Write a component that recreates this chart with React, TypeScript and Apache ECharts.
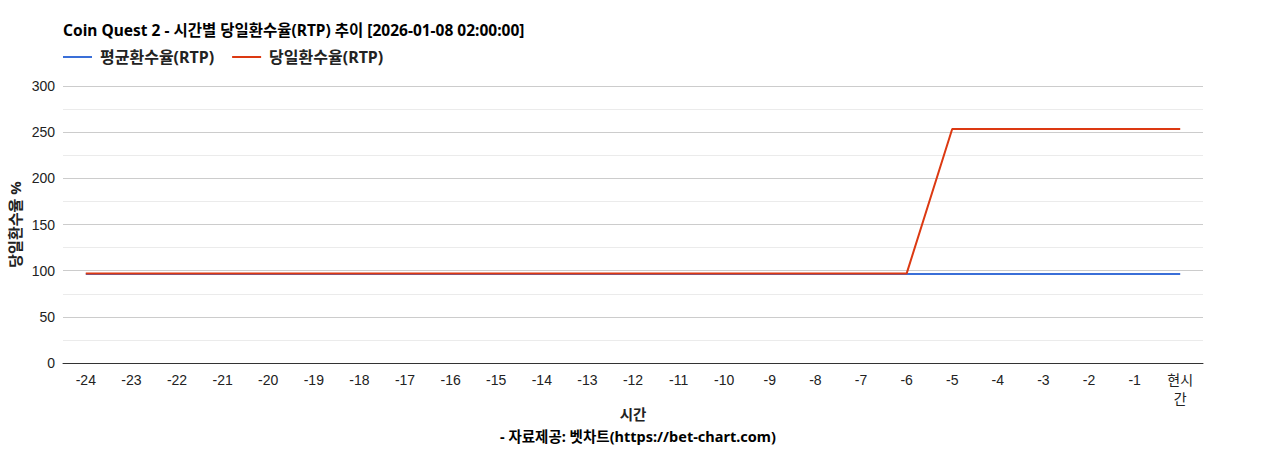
import { useEffect, useRef } from "react";
import * as echarts from "echarts";

const hours = [
  "-24", "-23", "-22", "-21", "-20", "-19", "-18", "-17", "-16", "-15", "-14", "-13",
  "-12", "-11", "-10", "-9", "-8", "-7", "-6", "-5", "-4", "-3", "-2", "-1", "현시간"
];

const avgRtp = [
  96.5, 96.5, 96.5, 96.5, 96.5, 96.5, 96.5, 96.5, 96.5, 96.5, 96.5, 96.5,
  96.5, 96.5, 96.5, 96.5, 96.5, 96.5, 96.5, 96.5, 96.5, 96.5, 96.5, 96.5, 96.5
];

const dailyRtp = [
  96.8, 96.8, 96.8, 96.8, 96.8, 96.8, 96.8, 96.8, 96.8, 96.8, 96.8, 96.8,
  96.8, 96.8, 96.8, 96.8, 96.8, 96.8, 96.8, 253.5, 253.5, 253.5, 253.5, 253.5, 253.5
];

const titleText = "Coin Quest 2 - 시간별 당일환수율(RTP) 추이 [2026-01-08 02:00:00]";
const footerText = "- 자료제공: 벳차트(https://bet-chart.com)";

const font = "Arial, 'Liberation Sans', 'Noto Sans CJK KR', sans-serif";
const boldFont = "'Noto Sans', 'Noto Sans CJK KR', sans-serif";

export default function App() {
  const ref = useRef<HTMLDivElement | null>(null);

  useEffect(() => {
    if (!ref.current) {
      return;
    }
    const instance = echarts.init(ref.current, null, { renderer: "svg" });

    instance.setOption({
      animation: false,
      textStyle: { fontFamily: font },
      title: [
        {
          text: titleText,
          left: 58,
          top: 17,
          textStyle: { fontSize: 15.5, fontWeight: "bold", color: "#000000", fontFamily: boldFont }
        },
        {
          text: footerText,
          left: 495,
          top: 424,
          textStyle: { fontSize: 14.5, fontWeight: "bold", color: "#000000", fontFamily: boldFont }
        }
      ],
      legend: {
        left: 58,
        top: 44,
        icon: "rect",
        itemWidth: 29,
        itemHeight: 2,
        itemGap: 18,
        textStyle: { fontSize: 16, fontWeight: "bold", color: "#222222", fontFamily: boldFont, padding: [0, 0, 0, 3] },
        data: ["평균환수율(RTP)", "당일환수율(RTP)"]
      },
      grid: { left: 63, right: 65, top: 86, bottom: 87, outerBoundsMode: "none" },
      xAxis: {
        type: "category",
        data: hours,
        boundaryGap: true,
        name: "시간",
        nameLocation: "middle",
        nameGap: 44,
        nameMoveOverlap: false,
        nameTextStyle: { fontSize: 14.5, fontWeight: "bold", color: "#222222", fontFamily: boldFont },
        axisLine: { lineStyle: { color: "#333333", width: 1 } },
        axisTick: { show: false },
        axisLabel: {
          color: "#222222",
          fontSize: 14,
          margin: 7,
          lineHeight: 19,
          interval: 0,
          formatter: (v: string) => (v === "현시간" ? "현시\n간" : v)
        }
      },
      yAxis: {
        type: "value",
        min: 0,
        max: 300,
        interval: 50,
        name: "당일환수율 %",
        nameLocation: "middle",
        nameGap: 41,
        nameMoveOverlap: false,
        nameTextStyle: { fontSize: 15, fontWeight: "bold", color: "#222222", fontFamily: boldFont },
        axisLine: { show: false },
        axisTick: { show: false },
        axisLabel: { color: "#222222", fontSize: 14, margin: 8 },
        splitLine: { lineStyle: { color: "#cccccc", width: 1 } },
        minorTick: { show: false, splitNumber: 2 },
        minorSplitLine: { show: true, lineStyle: { color: "#ebebeb", width: 1 } }
      },
      series: [
        {
          name: "평균환수율(RTP)",
          type: "line",
          data: avgRtp,
          symbol: "none",
          lineStyle: { color: "#3a6fd8", width: 2 },
          itemStyle: { color: "#3a6fd8" }
        },
        {
          name: "당일환수율(RTP)",
          type: "line",
          data: dailyRtp,
          symbol: "none",
          lineStyle: { color: "#dc3912", width: 2 },
          itemStyle: { color: "#dc3912" }
        }
      ]
    });

    return () => {
      instance.dispose();
    };
  }, []);

  return (
    <div
      ref={ref}
      style={{ position: "fixed", left: 0, top: 0, width: 1268, height: 450, background: "#ffffff" }}
    />
  );
}
